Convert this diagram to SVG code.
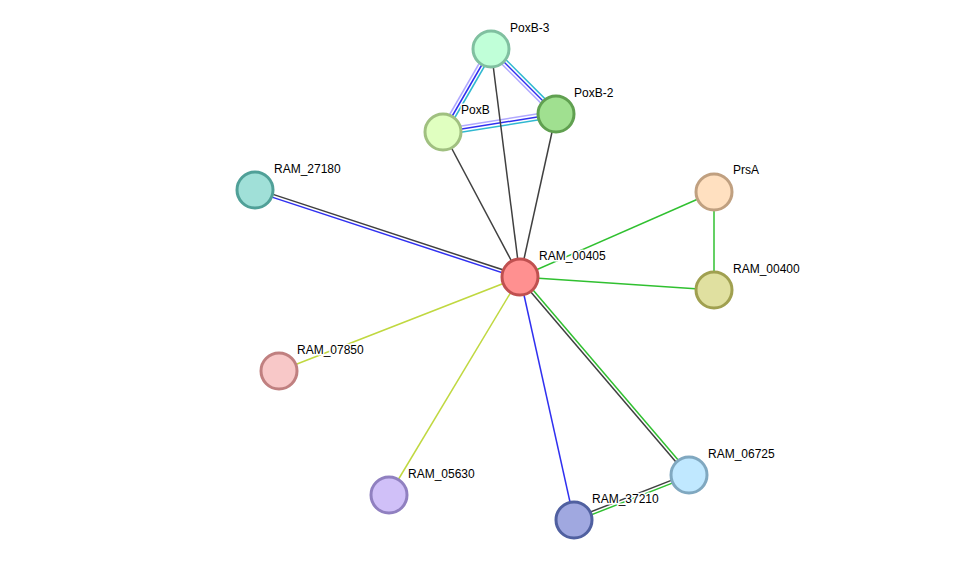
<svg xmlns="http://www.w3.org/2000/svg" width="975" height="566" viewBox="0 0 975 566">
<style>
.e{fill:none;stroke-width:1.5}
.gy{stroke:#404040}
.bl{stroke:#3030f0}
.gn{stroke:#30c030}
.yg{stroke:#c0d840}
.cy{stroke:#30b8d0}
.lv{stroke:#b0a8ff}
.n circle{stroke-width:3}
text{font-family:"Liberation Sans",Arial,sans-serif;font-size:12px;fill:#000;stroke:#fff;stroke-width:3px;paint-order:stroke;stroke-linejoin:round}
</style>
<rect width="975" height="566" fill="#fff"/>
<g id="edges">
<line class="e lv" x1="488.4" y1="47.5" x2="440.4" y2="130.5"/>
<line class="e bl" x1="491" y1="49" x2="443" y2="132"/>
<line class="e cy" x1="493.6" y1="50.5" x2="445.6" y2="133.5"/>
<line class="e lv" x1="488.9" y1="51.1" x2="553.9" y2="116.1"/>
<line class="e bl" x1="491" y1="49" x2="556" y2="114"/>
<line class="e cy" x1="493.1" y1="46.9" x2="558.1" y2="111.9"/>
<line class="e lv" x1="442.5" y1="129" x2="555.5" y2="111"/>
<line class="e bl" x1="443" y1="132" x2="556" y2="114"/>
<line class="e cy" x1="443.5" y1="135" x2="556.5" y2="117"/>
<line class="e gy" x1="491" y1="49" x2="520" y2="277"/>
<line class="e gy" x1="443" y1="132" x2="520" y2="277"/>
<line class="e gy" x1="556" y1="114" x2="520" y2="277"/>
<line class="e gy" x1="255.5" y1="188.6" x2="520.5" y2="275.6"/>
<line class="e bl" x1="254.5" y1="191.4" x2="519.5" y2="278.4"/>
<line class="e gn" x1="714" y1="192" x2="520" y2="277"/>
<line class="e gn" x1="714" y1="290" x2="520" y2="277"/>
<line class="e gn" x1="714" y1="192" x2="714" y2="290"/>
<line class="e yg" x1="279" y1="371" x2="520" y2="277"/>
<line class="e yg" x1="389" y1="495" x2="520" y2="277"/>
<line class="e bl" x1="574" y1="520" x2="520" y2="277"/>
<line class="e gy" x1="518.9" y1="278" x2="687.9" y2="476"/>
<line class="e gn" x1="521.1" y1="276" x2="690.1" y2="474"/>
<line class="e gy" x1="573.5" y1="518.6" x2="688.5" y2="473.6"/>
<line class="e gn" x1="574.5" y1="521.4" x2="689.5" y2="476.4"/>
</g>
<g id="PoxB-3" class="n"><circle cx="491" cy="49" r="18" fill="#c0ffd8" stroke="#80c0a0"/><text x="510" y="32">PoxB-3</text></g>
<g id="PoxB" class="n"><circle cx="443" cy="132" r="18" fill="#e0ffc0" stroke="#a0c080"/><text x="461" y="114">PoxB</text></g>
<g id="PoxB-2" class="n"><circle cx="556" cy="114" r="18" fill="#a0e090" stroke="#60a050"/><text x="574" y="97">PoxB-2</text></g>
<g id="RAM_27180" class="n"><circle cx="255" cy="190" r="18" fill="#a0e0d8" stroke="#50a098"/><text x="274" y="173">RAM_27180</text></g>
<g id="PrsA" class="n"><circle cx="714" cy="192" r="18" fill="#ffe0c0" stroke="#c0a080"/><text x="733" y="174">PrsA</text></g>
<g id="RAM_00405" class="n"><circle cx="520" cy="277" r="18" fill="#ff9090" stroke="#c05050"/><text x="539" y="260">RAM_00405</text></g>
<g id="RAM_00400" class="n"><circle cx="714" cy="290" r="18" fill="#e0e0a0" stroke="#a0a050"/><text x="733" y="273">RAM_00400</text></g>
<g id="RAM_07850" class="n"><circle cx="279" cy="371" r="18" fill="#f8c8c8" stroke="#c08080"/><text x="297" y="354">RAM_07850</text></g>
<g id="RAM_05630" class="n"><circle cx="389" cy="495" r="18" fill="#d0c0f8" stroke="#9080c0"/><text x="408" y="478">RAM_05630</text></g>
<g id="RAM_06725" class="n"><circle cx="689" cy="475" r="18" fill="#c0e8ff" stroke="#80a8c0"/><text x="708" y="458">RAM_06725</text></g>
<g id="RAM_37210" class="n"><circle cx="574" cy="520" r="18" fill="#a0a8e0" stroke="#5060a0"/><text x="592" y="503">RAM_37210</text></g>
</svg>
